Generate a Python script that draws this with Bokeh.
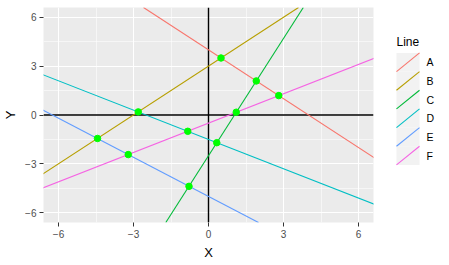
from bokeh.plotting import figure
from bokeh.models import Range1d, FixedTicker, Span, Slope, ColumnDataSource
from bokeh.layouts import row
from bokeh.embed import file_html
from bokeh.resources import INLINE
from bokeh.core.properties import value

# ---- data ----
line_names = ["A", "B", "C", "D", "E", "F"]
intercepts = [4.0, 3.0, -2.5, -1.5, -5.0, -0.5]
slopes = [-1.0, 1.0, 2.4, -0.6, -0.8, 0.6]
line_colors = ["#F8766D", "#B79F00", "#00BA38", "#00BFC4", "#619CFF", "#F564E3"]

point_x = [0.5, 1.91, 2.81, 1.11, -2.81, -4.44, -3.21, -0.83, 0.33, -0.78]
point_y = [3.5, 2.09, 1.19, 0.17, 0.19, -1.44, -2.43, -1.0, -1.7, -4.38]

x_ticks = [-6, -3, 0, 3, 6]
y_ticks = [-6, -3, 0, 3, 6]
minor_ticks = [-4.5, -1.5, 1.5, 4.5]

FONT = "Liberation Sans"

# ---- main panel ----
p = figure(width=380, height=265,
           x_range=Range1d(-6.6, 6.6), y_range=Range1d(-6.6, 6.6),
           output_backend="svg", toolbar_location=None,
           min_border_left=42, min_border_right=7,
           min_border_top=7, min_border_bottom=43,
           background_fill_color="#EBEBEB", border_fill_color="white",
           outline_line_color=None)

p.xaxis.ticker = FixedTicker(ticks=x_ticks, minor_ticks=minor_ticks)
p.yaxis.ticker = FixedTicker(ticks=y_ticks, minor_ticks=minor_ticks)

for g in (p.xgrid, p.ygrid):
    g.grid_line_color = "white"
    g.grid_line_width = 1.1
    g.minor_grid_line_color = "white"
    g.minor_grid_line_width = 0.55

for ax in (p.xaxis, p.yaxis):
    ax.axis_line_color = None
    ax.major_tick_line_color = "#333333"
    ax.major_tick_line_width = 1
    ax.major_tick_out = 4
    ax.major_tick_in = 0
    ax.minor_tick_line_color = None
    ax.major_label_text_font = FONT
    ax.major_label_text_font_size = "10px"
    ax.major_label_text_color = "#4D4D4D"
    ax.major_label_standoff = 3
    ax.axis_label_text_font = FONT
    ax.axis_label_text_font_size = "13px"
    ax.axis_label_text_font_style = "normal"
    ax.axis_label_text_color = "black"
    ax.axis_label_standoff = 4

p.xaxis.axis_label = "X"
p.yaxis.axis_label = "Y"

p.add_layout(Span(location=0, dimension="width", line_color="black",
                  line_width=1.4, level="underlay"))
p.add_layout(Span(location=0, dimension="height", line_color="black",
                  line_width=1.4, level="underlay"))

for b, m, c in zip(intercepts, slopes, line_colors):
    p.add_layout(Slope(gradient=m, y_intercept=b, line_color=c,
                       line_width=1.1, level="underlay"))

p.scatter(x=point_x, y=point_y, size=6.5, color="#00FF00")

# ---- legend ----
lg = figure(width=69, height=265, x_range=Range1d(0, 69), y_range=Range1d(265, 0),
            output_backend="svg", toolbar_location=None,
            x_axis_location=None, y_axis_location=None,
            min_border=0, outline_line_color=None,
            background_fill_color="white", border_fill_color="white")
lg.grid.visible = False

n = len(line_names)
key_top = [56 + 23 * i for i in range(n)]
key_src = ColumnDataSource(dict(
    cx=[27.5] * n, cy=[t + 11.5 for t in key_top],
    left=[16] * n, right=[39] * n,
    top=key_top, bottom=[t + 23 for t in key_top],
    lx=[46] * n, name=line_names, color=line_colors))
lg.rect(x="cx", y="cy", width=23, height=23, source=key_src,
        fill_color="#F2F2F2", line_color=None)
lg.segment(x0="left", y0="bottom", x1="right", y1="top", source=key_src,
           line_color="color", line_width=1.1)
lg.text(x="lx", y="cy", text="name", source=key_src,
        text_font=value(FONT), text_font_size="10.5px", text_color="black",
        text_baseline="middle", text_align="left")
lg.text(x=[16], y=[42], text=["Line"], text_font=value(FONT),
        text_font_size="12px", text_color="black",
        text_baseline="middle", text_align="left")

layout = row(p, lg)
open("out.html", "w").write(file_html(layout, INLINE))
